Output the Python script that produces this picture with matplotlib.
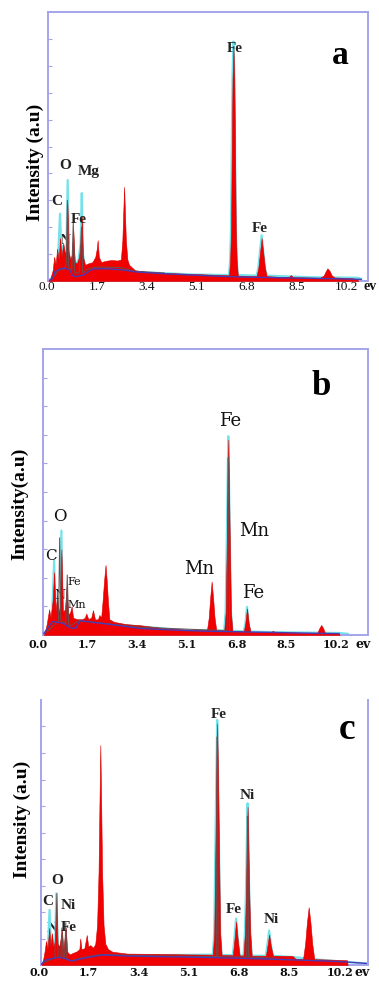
import matplotlib
matplotlib.use("Agg")
import matplotlib.pyplot as plt

# energy / intensity points
tick_labels = ["0.0", "1.7", "3.4", "5.1", "6.8", "8.5", "10.2"]
tick_vals = [0.0, 1.7, 3.4, 5.1, 6.8, 8.5, 10.2]

# ---- panel a ----
a_red = [(0.05, 0), (0.12, 1), (0.2, 4), (0.25, 9), (0.3, 6), (0.35, 12), (0.4, 8), (0.45, 16),
         (0.5, 9), (0.56, 14), (0.62, 10), (0.67, 12), (0.7, 29), (0.74, 11), (0.8, 8), (0.86, 10),
         (0.9, 19), (0.95, 7), (1.02, 6.5), (1.1, 9), (1.16, 14), (1.19, 24), (1.23, 9), (1.3, 6),
         (1.4, 6.5), (1.55, 7), (1.65, 9), (1.7, 12), (1.73, 15.2), (1.77, 9), (1.85, 7), (2.0, 7.5),
         (2.2, 7.8), (2.4, 7.6), (2.52, 8), (2.57, 15), (2.6, 25), (2.63, 35), (2.66, 25), (2.69, 15),
         (2.74, 8), (2.8, 6), (2.9, 5), (3.0, 4), (3.4, 3.4), (4.0, 3), (5.0, 2.6), (6.0, 2.2),
         (6.2, 2.1), (6.24, 8), (6.27, 20), (6.295, 50), (6.32, 75), (6.35, 87), (6.38, 75),
         (6.405, 50), (6.43, 20), (6.46, 8), (6.5, 2), (7.0, 1.8), (7.14, 1.9), (7.2, 5), (7.25, 10),
         (7.31, 15.9), (7.37, 10), (7.42, 5), (7.48, 1.8), (8.0, 1.5), (8.25, 1.6), (8.3, 2.2),
         (8.38, 1.4), (9.3, 1.2), (9.42, 2), (9.5, 3.8), (9.55, 4.7), (9.62, 3.8), (9.7, 2), (9.8, 1.3),
         (10.3, 1.1), (10.55, 0.8), (10.6, 0)]
a_cyan = [(0.1, 0.5), (0.3, 2.5), (0.38, 8), (0.45, 25), (0.5, 9), (0.56, 13), (0.62, 9), (0.67, 12),
          (0.71, 37.5), (0.75, 9), (0.82, 7), (0.88, 8), (0.92, 10), (0.98, 6), (1.08, 8), (1.15, 14),
          (1.19, 32.7), (1.23, 10), (1.3, 5), (1.5, 4.5), (2.0, 4.6), (2.6, 4.3), (3.0, 3.4), (5.0, 2.4),
          (6.2, 2.2), (6.24, 8), (6.27, 20), (6.295, 50), (6.32, 76), (6.35, 89), (6.38, 76),
          (6.405, 50), (6.43, 20), (6.46, 8), (6.5, 2.2), (7.14, 2.0), (7.2, 5), (7.25, 10.5),
          (7.31, 17), (7.37, 10.5), (7.42, 5), (7.48, 2.0), (9.0, 1.4), (10.6, 1.2), (10.7, 0.8)]
a_gray = [(0.2, 1), (0.4, 4), (0.6, 4.5), (0.66, 6), (0.7, 30), (0.74, 5), (0.85, 4), (0.9, 22),
          (0.95, 3), (1.1, 3), (1.18, 20), (1.22, 3), (1.4, 4.5), (1.7, 5.2), (2.5, 5), (3.0, 3.6), (4.0, 3)]
a_blue = [(0.1, 0.3), (0.2, 1), (0.28, 3.5), (0.45, 4.5), (0.6, 4.8), (0.78, 4.1), (0.88, 2),
          (0.96, 1.6), (1.25, 2.2), (1.45, 3.8), (1.6, 4.5), (2.0, 4.6), (2.6, 4.1), (3.0, 3.4),
          (4.0, 2.7), (5.0, 2.2), (6.0, 1.7), (7.0, 1.4), (8.0, 1.2), (9.0, 1.0), (10.0, 0.8), (10.7, 0.6)]
a_labels = ["Fe", "Fe", "O", "Mg", "C", "Fe", "N"]
a_label_xy = [(6.4, 86.5), (7.26, 19.6), (0.62, 42.9), (1.42, 40.6), (0.34, 29.5), (1.08, 22.7), (0.62, 15.2)]

# ---- panel b ----
b_red = [(0.2, 0), (0.25, 1.5), (0.3, 4), (0.38, 9), (0.43, 6), (0.5, 12), (0.55, 22), (0.6, 8),
         (0.65, 14), (0.7, 8), (0.75, 10), (0.8, 30), (0.85, 8), (0.92, 9), (0.98, 17), (1.03, 7),
         (1.1, 8), (1.15, 10), (1.2, 6), (1.35, 5.5), (1.5, 5.5), (1.6, 6), (1.65, 7.5), (1.72, 5.6),
         (1.82, 6), (1.88, 8.7), (1.95, 5.4), (2.05, 5.5), (2.1, 7), (2.16, 6), (2.21, 12), (2.26, 19),
         (2.31, 24.5), (2.35, 19), (2.39, 12), (2.44, 5.5), (2.6, 4.6), (3.0, 3.8), (3.5, 3.4),
         (4.4, 2.3), (5.2, 1.8), (5.78, 1.7), (5.84, 6), (5.89, 13), (5.94, 18.7), (5.99, 13),
         (6.04, 6), (6.1, 1.6), (6.37, 1.5), (6.42, 8), (6.46, 34), (6.49, 55), (6.51, 68.3),
         (6.53, 55), (6.56, 34), (6.6, 8), (6.65, 1.4), (7.04, 1.2), (7.09, 4), (7.15, 9.3),
         (7.21, 4), (7.27, 1.1), (7.95, 1.0), (8.04, 1.4), (8.12, 0.9), (9.55, 0.7), (9.63, 2.5),
         (9.69, 3.5), (9.75, 2.5), (9.82, 0.7), (10.3, 0.5), (10.32, 0)]
b_cyan = [(0.2, 0.3), (0.35, 2), (0.48, 6), (0.55, 26), (0.6, 7), (0.68, 9), (0.76, 10), (0.8, 36.5),
          (0.84, 8), (0.95, 6), (1.1, 5), (1.4, 5), (2.0, 4.6), (3.0, 3.4), (5.0, 1.7), (6.37, 1.6),
          (6.42, 8), (6.46, 34), (6.49, 56), (6.51, 69.5), (6.53, 56), (6.56, 34), (6.6, 8), (6.65, 1.5),
          (7.04, 1.3), (7.1, 4.2), (7.15, 9.8), (7.2, 4.2), (7.26, 1.2), (8.0, 1.0), (10.3, 0.7),
          (10.6, 0.4)]
b_gray = [(0.3, 1), (0.6, 4), (0.7, 5), (0.74, 34), (0.78, 5), (0.95, 4), (1.0, 21), (1.05, 3),
          (1.4, 5), (2.0, 4.4), (3.0, 3.2), (3.5, 2.7), (6.47, 1.5), (6.5, 62), (6.52, 62), (6.55, 1.5)]
b_blue = [(0.2, 0.5), (0.28, 1.75), (0.4, 3.5), (0.5, 4.7), (0.86, 4.1), (1.03, 2.9), (1.2, 2.3),
          (1.3, 2.5), (1.43, 5.0), (2.0, 4.3), (3.0, 3.0), (3.48, 2.3), (4.5, 1.8), (5.5, 1.4),
          (6.5, 1.2), (7.5, 1.0), (8.5, 0.8), (9.5, 0.6), (10.3, 0.5)]
b_labels = ["Fe", "Mn", "Mn", "Fe", "O", "C", "Fe", "N", "Mn"]
b_label_xy = [(6.56, 74.7), (7.41, 36.2), (5.53, 23.0), (7.35, 14.6), (0.74, 41.4), (0.43, 27.7),
              (1.25, 18.7), (0.74, 13.7), (1.33, 10.5)]
b_label_size = [13, 13, 13, 13, 12, 11, 8, 9, 8]

# ---- panel c ----
c_red = [(0.1, 0), (0.15, 2), (0.2, 5), (0.25, 9), (0.3, 6), (0.36, 14), (0.4, 7), (0.45, 12),
         (0.5, 7), (0.55, 9), (0.6, 20), (0.64, 8), (0.7, 7), (0.79, 13), (0.84, 6), (0.92, 14),
         (0.97, 5), (1.05, 4), (1.13, 4.4), (1.3, 5.2), (1.38, 6), (1.41, 10), (1.45, 6), (1.55, 6.3),
         (1.63, 11.3), (1.68, 7), (1.75, 7.5), (1.85, 6.5), (1.92, 8), (1.98, 15), (2.03, 35),
         (2.06, 60), (2.09, 83), (2.12, 60), (2.15, 35), (2.2, 15), (2.26, 8), (2.35, 6), (2.5, 5),
         (3.0, 4.3), (4.0, 4.2), (5.0, 4.0), (5.9, 3.9), (5.95, 12), (5.99, 45), (6.02, 70),
         (6.05, 91.2), (6.08, 70), (6.11, 45), (6.15, 12), (6.2, 3.8), (6.58, 3.7), (6.63, 9),
         (6.69, 16.4), (6.75, 9), (6.81, 3.6), (6.94, 3.6), (6.99, 12), (7.03, 30), (7.06, 50),
         (7.08, 59.7), (7.1, 50), (7.13, 30), (7.17, 12), (7.22, 3.5), (7.7, 3.5), (7.75, 7),
         (7.81, 11.5), (7.87, 7), (7.94, 3.5), (8.6, 3.4), (8.7, 2.4), (8.96, 2.3), (9.03, 8),
         (9.09, 16), (9.15, 21.8), (9.21, 16), (9.27, 8), (9.34, 2.2), (10.0, 2.0), (10.45, 1.8),
         (10.47, 0)]
c_cyan = [(0.1, 0.3), (0.25, 2), (0.32, 8), (0.37, 20.8), (0.42, 6), (0.5, 5), (0.56, 7), (0.6, 27),
          (0.65, 5), (0.75, 4), (0.85, 3), (1.0, 2.5), (1.2, 2.4), (2.0, 3.9), (3.0, 3.6), (5.9, 3.9),
          (5.95, 12), (5.99, 45), (6.02, 70), (6.05, 92.5), (6.08, 70), (6.11, 45), (6.15, 12),
          (6.2, 3.8), (6.58, 3.7), (6.63, 9.5), (6.69, 17.5), (6.75, 9.5), (6.81, 3.6), (6.94, 3.6),
          (6.99, 12), (7.03, 30), (7.06, 50), (7.08, 61), (7.1, 50), (7.13, 30), (7.17, 12),
          (7.22, 3.5), (7.7, 3.5), (7.75, 7.5), (7.81, 13), (7.87, 7.5), (7.94, 3.5), (8.6, 3.0),
          (10.3, 1.2), (11.1, 0.6)]
c_gray = [(0.2, 1), (0.4, 2), (0.55, 3), (0.62, 27), (0.66, 3), (0.75, 3), (0.79, 14), (0.83, 3),
          (0.88, 3), (0.92, 16), (0.96, 2.5), (1.1, 1.6), (1.5, 2.8), (2.1, 4.0), (3.0, 3.7), (4.0, 3.4),
          (6.02, 3.2), (6.04, 86), (6.06, 86), (6.08, 3.1), (7.05, 3.0), (7.07, 56), (7.09, 56),
          (7.11, 3.0), (8.0, 2.6)]
c_blue = [(0.1, 0.3), (0.23, 1.9), (0.5, 2.5), (0.7, 2.9), (0.9, 2.4), (1.01, 1.9), (1.13, 1.5),
          (1.5, 2.5), (2.14, 3.8), (3.0, 3.4), (5.0, 3.0), (7.0, 2.5), (9.0, 1.8), (10.3, 1.25), (11.1, 0.6)]
c_labels = ["Fe", "Ni", "Fe", "Ni", "O", "C", "Ni", "N", "Fe"]
c_label_xy = [(6.12, 94.7), (7.07, 64), (6.62, 21), (7.89, 17), (0.64, 31.7), (0.32, 23.9),
              (1.01, 22.6), (0.45, 13.8), (1.01, 14.2)]

RED = "#f00000"
CYAN = "#74e2ea"
GRAY = "#6a5050"
BLUE = "#4b3ab5"
FRAME = "#a4a4ea"
SERIF = ["Liberation Serif", "DejaVu Serif"]
WIDE = ["DejaVu Serif"]

W, H = 379, 981
fig = plt.figure(figsize=(W / 100, H / 100), dpi=100)
fig.patch.set_facecolor("white")


def px_axes(left, right, top, bottom):
    return fig.add_axes([left / W, (H - bottom) / H, (right - left) / W, (bottom - top) / H])


def unzip(pts):
    return [p[0] for p in pts], [p[1] for p in pts]


def draw_spectrum(ax, red, cyan, gray, blue):
    # cyan sits behind the red fill so it shows up as an outline
    x, y = unzip(cyan)
    ax.plot(x, y, color=CYAN, lw=1.6, zorder=2)
    x, y = unzip(red)
    ax.fill_between(x, 0, y, color=RED, lw=0.4, edgecolor="#d80000", zorder=3)
    x, y = unzip(gray)
    ax.plot(x, y, color=GRAY, lw=0.7, zorder=4)
    x, y = unzip(blue)
    ax.plot(x, y, color=BLUE, lw=1.0, zorder=4)


def frame(ax, xlim, top=True):
    ax.set_xlim(*xlim)
    ax.set_ylim(0, 100)
    for s in ax.spines.values():
        s.set_color(FRAME)
        s.set_linewidth(1.4)
    if not top:
        ax.spines["top"].set_visible(False)
    ax.set_xticks([])
    ax.set_yticks(range(10, 100, 10))
    ax.tick_params(axis="y", direction="in", length=3, width=0.8, color=FRAME, labelleft=False)


def xlabels(ax, dy, family, size, weight, ev_x, ev_size):
    for v, t in zip(tick_vals, tick_labels):
        ax.text(v, dy, t, transform=ax.get_xaxis_transform(), ha="center", va="center",
                family=family, fontsize=size, fontweight=weight, color="#111111", clip_on=False)
    ax.text(ev_x, dy, "ev", transform=ax.get_xaxis_transform(), ha="center", va="center",
            family=family, fontsize=ev_size, fontweight="bold", color="#111111", clip_on=False)


# ---- a ----
ax = px_axes(48, 368, 12, 281)
frame(ax, (0.04, 10.93))
draw_spectrum(ax, a_red, a_cyan, a_gray, a_blue)
for t, (x, y) in zip(a_labels, a_label_xy):
    ax.text(x, y, t, ha="center", va="center", family=SERIF, fontsize=11, fontweight="bold",
            color="#222222", zorder=5 if t != "N" else 1)
ax.text(9.98, 84, "a", ha="center", va="center", family=SERIF, fontsize=24, fontweight="bold")
ax.text(-0.04, 0.44, "Intensity (a.u)", transform=ax.transAxes, rotation=90, ha="center",
        va="center", family=SERIF, fontsize=14, fontweight="bold")
xlabels(ax, -6 / 269, SERIF, 9.5, "normal", 11.0, 10)

# ---- b ----
ax = px_axes(43, 368, 349, 635)
frame(ax, (0.17, 11.29))
draw_spectrum(ax, b_red, b_cyan, b_gray, b_blue)
for t, (x, y), s in zip(b_labels, b_label_xy, b_label_size):
    ax.text(x, y, t, ha="center", va="center", family=WIDE, fontsize=s,
            color="#111111", zorder=5 if t != "N" else 1)
ax.text(9.69, 86.9, "b", ha="center", va="center", family=SERIF, fontsize=25, fontweight="bold")
ax.text(-0.071, 0.46, "Intensity(a.u)", transform=ax.transAxes, rotation=90, ha="center",
        va="center", family=SERIF, fontsize=14, fontweight="bold")
xlabels(ax, -10 / 286, WIDE, 8, "bold", 11.12, 9)

# ---- c ----
ax = px_axes(41, 368, 700, 965)
frame(ax, (0.08, 11.16), top=False)
draw_spectrum(ax, c_red, c_cyan, c_gray, c_blue)
for t, (x, y) in zip(c_labels, c_label_xy):
    ax.text(x, y, t, ha="center", va="center", family=SERIF, fontsize=11, fontweight="bold",
            color="#222222", zorder=5 if t != "N" else 1)
ax.text(10.45, 89, "c", ha="center", va="center", family=SERIF, fontsize=27, fontweight="bold")
ax.text(-0.058, 0.55, "Intensity (a.u)", transform=ax.transAxes, rotation=90, ha="center",
        va="center", family=SERIF, fontsize=14, fontweight="bold")
xlabels(ax, -8 / 265, WIDE, 8, "bold", 10.95, 9)

fig.savefig("out.png", dpi=100, facecolor="white")
